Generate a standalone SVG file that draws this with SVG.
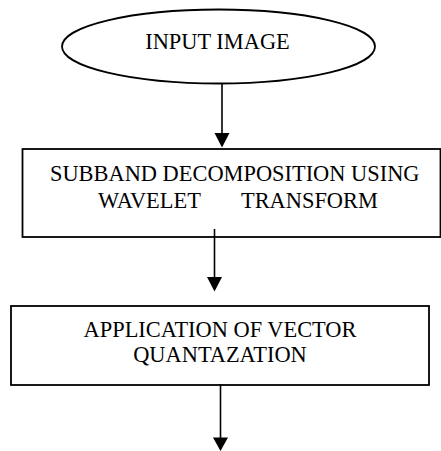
<svg xmlns="http://www.w3.org/2000/svg" width="441" height="451" viewBox="0 0 441 451">
  <style>
    .shape { fill: #ffffff; stroke: #000000; stroke-width: 1.8; }
    .label { font-family: "Liberation Serif", "Times New Roman", serif; font-size: 22.4px; fill: #000000; }
    .flow { stroke: #000000; stroke-width: 1.6; fill: none; }
    .head { fill: #000000; stroke: none; }
  </style>
  <rect x="0" y="0" width="441" height="451" fill="#ffffff"/>

  <g id="input-image">
    <ellipse class="shape" cx="218.5" cy="46.5" rx="156.5" ry="37"/>
    <text class="label" x="217.5" y="48.5" text-anchor="middle">INPUT IMAGE</text>
  </g>

  <g id="subband-decomposition">
    <rect class="shape" x="22.5" y="149" width="418" height="88"/>
    <text class="label" x="50" y="181">SUBBAND DECOMPOSITION USING</text>
    <text class="label" y="207.5"><tspan x="98">WAVELET</tspan><tspan x="241">TRANSFORM</tspan></text>
  </g>

  <g id="vector-quantization">
    <rect class="shape" x="11" y="306" width="418" height="79"/>
    <text class="label" x="220" y="336.5" text-anchor="middle">APPLICATION OF VECTOR</text>
    <text class="label" x="220" y="362" text-anchor="middle">QUANTAZATION</text>
  </g>

  <g id="connectors">
    <line class="flow" x1="222" y1="84" x2="222" y2="136"/>
    <polygon class="head" points="214.5,133 229.5,133 222,147.5"/>

    <line class="flow" x1="214.5" y1="229" x2="214.5" y2="280"/>
    <polygon class="head" points="207,277 222,277 214.5,291.5"/>

    <line class="flow" x1="220.5" y1="384" x2="220.5" y2="440"/>
    <polygon class="head" points="213,437.5 228,437.5 220.5,451"/>
  </g>
</svg>
